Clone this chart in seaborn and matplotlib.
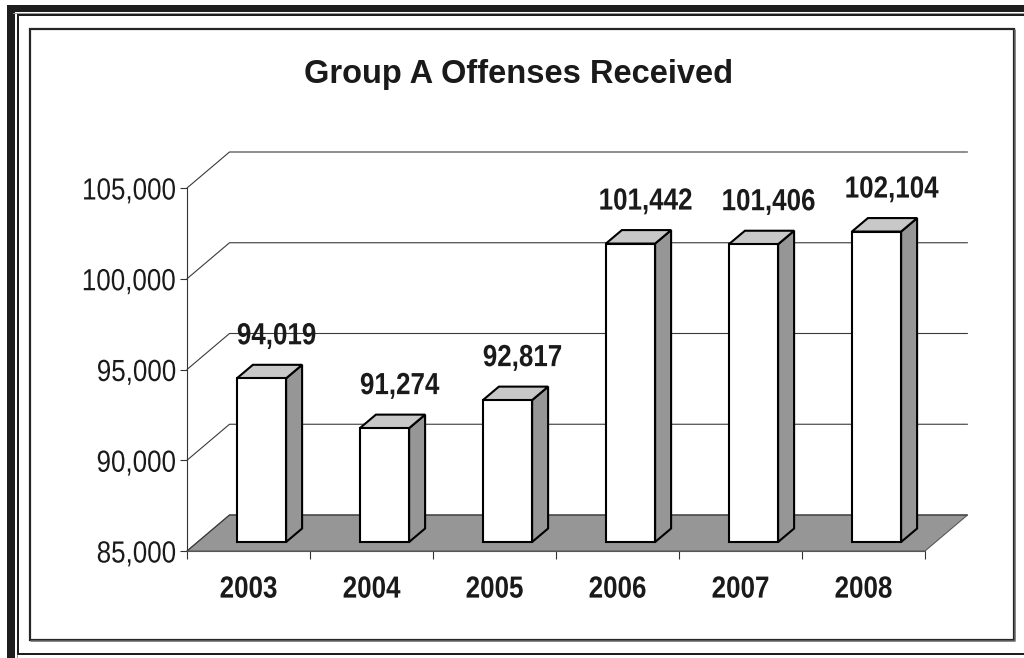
import matplotlib
matplotlib.use("Agg")
import matplotlib.pyplot as plt
from matplotlib import font_manager
from matplotlib.patches import Polygon, Rectangle
from matplotlib.patheffects import AbstractPathEffect
from matplotlib.ticker import FixedLocator, FuncFormatter
from matplotlib.transforms import Affine2D
import seaborn as sns
import pandas as pd

# ---- data -------------------------------------------------------------
years = ["2003", "2004", "2005", "2006", "2007", "2008"]
offenses = [94019, 91274, 92817, 101442, 101406, 102104]
y_ticks = [85000, 90000, 95000, 100000, 105000]
title = "Group A Offenses Received"

_avail = {f.name for f in font_manager.fontManager.ttflist}
WIDE = "Liberation Sans" if "Liberation Sans" in _avail else "DejaVu Sans"
if "Liberation Sans Narrow" in _avail:
    NARROW, SQUEEZE = "Liberation Sans Narrow", 1.0
else:
    # emulate a narrow face by compressing the regular one horizontally
    NARROW, SQUEEZE = WIDE, 0.85


class Squeeze(AbstractPathEffect):
    """Horizontally condense glyph outlines around an anchor."""

    def __init__(self, sx, anchor="center"):
        super().__init__()
        self.sx, self.anchor = sx, anchor

    def draw_path(self, renderer, gc, tpath, affine, rgbFace=None):
        ext = tpath.get_extents(affine)
        xa = {"left": ext.x0, "center": 0.5 * (ext.x0 + ext.x1),
              "right": ext.x1}[self.anchor]
        sq = Affine2D().translate(-xa, 0).scale(self.sx, 1).translate(xa, 0)
        renderer.draw_path(gc, tpath, affine + sq, rgbFace)


def narrow(anchor):
    return [Squeeze(SQUEEZE, anchor)] if SQUEEZE != 1.0 else []


sns.set_theme(style="white")
plt.rcParams["font.family"] = [NARROW, "DejaVu Sans"]

W, H, DPI = 1024, 658, 100
PT = 72 / DPI  # points per pixel
fig = plt.figure(figsize=(W / DPI, H / DPI), dpi=DPI)
fig.patch.set_facecolor("white")


def px_box(l, t, r, b):
    return [l / W, 1 - b / H, (r - l) / W, (b - t) / H]


# ---- page frame (pixel space overlay) ---------------------------------
ov = fig.add_axes([0, 0, 1, 1], zorder=0)
ov.set_xlim(0, W)
ov.set_ylim(H, 0)
ov.axis("off")
dark = "#1e1e1e"
ov.add_patch(Rectangle((7, 5), 8, H - 5, color=dark, lw=0))
ov.add_patch(Rectangle((7, 5), W - 7, 7, color=dark, lw=0))
ov.plot([16.5, 16.5], [13, H], color="#9a9a9a", lw=1 * PT)
ov.plot([13, W], [13.2, 13.2], color="#9a9a9a", lw=1 * PT)
ov.plot([18.3, 18.3], [15, 654], color=dark, lw=2 * PT)
ov.plot([18, W], [15.3, 15.3], color=dark, lw=2 * PT)
ov.plot([18, W], [654, 654], color=dark, lw=2 * PT)
# inner chart box with a slight shadow on the right / bottom
ov.plot([1015.3, 1015.3, 31], [30, 641.3, 641.3], color="#6a6a6a", lw=1.5 * PT)
ov.add_patch(Rectangle((29.5, 28.8), 984.3, 611.3, fill=False,
                       edgecolor="#262626", lw=2.2 * PT))

# ---- chart axes (front plane of the 3D box) ----------------------------
ax = fig.add_axes(px_box(187, 188, 925, 551), zorder=1)
ax.set_facecolor("none")

df = pd.DataFrame({"year": years, "offenses": offenses})
sns.barplot(data=df, x="year", y="offenses", ax=ax, width=0.4,
            color="white", saturation=1, edgecolor="black",
            linewidth=1.5, zorder=5)
ax.set_xlim(-0.5, len(years) - 0.5)
ax.set_ylim(y_ticks[0], y_ticks[-1])
base = y_ticks[0]

# pixel -> data units for the oblique depth offsets
xpp = len(years) / ax.bbox.width
ypp = (y_ticks[-1] - y_ticks[0]) / ax.bbox.height
WALL = (42.5 * xpp, 36 * ypp)    # full depth of floor / walls
FRONT = (13 * xpp, 9 * ypp)      # where the bar front sits in depth
DEPTH = (16 * xpp, 13.5 * ypp)   # bar depth

x_lo, x_hi = -0.5, len(years) - 0.5

# floor
ax.add_patch(Polygon([(x_lo, base), (x_hi, base),
                      (x_hi + WALL[0], base + WALL[1]),
                      (x_lo + WALL[0], base + WALL[1])],
                     closed=True, facecolor="#969696", edgecolor="#5a5a5a",
                     lw=0.8, zorder=1, clip_on=False))

# gridlines on the side and back walls
for v in y_ticks:
    ax.plot([x_lo, x_lo + WALL[0], x_hi + WALL[0]],
            [v, v + WALL[1], v + WALL[1]],
            color="#3a3a3a", lw=0.8, zorder=2, clip_on=False)

# turn the flat bars into 3D columns
for rect, v in zip(ax.patches, offenses):
    x0 = rect.get_x() + FRONT[0]
    w = rect.get_width()
    y0 = base + FRONT[1]
    top = v + FRONT[1]
    rect.set_xy((x0, y0))
    rect.set_height(top - y0)
    rect.set_clip_on(False)
    rect.set_joinstyle("miter")
    x1 = x0 + w
    side = Polygon([(x1, y0), (x1, top), (x1 + DEPTH[0], top + DEPTH[1]),
                    (x1 + DEPTH[0], y0 + DEPTH[1])], closed=True,
                   facecolor="#969696", edgecolor="black", lw=1.5,
                   joinstyle="miter", zorder=4, clip_on=False)
    cap = Polygon([(x0, top), (x1, top), (x1 + DEPTH[0], top + DEPTH[1]),
                   (x0 + DEPTH[0], top + DEPTH[1])], closed=True,
                  facecolor="#c8c8c8", edgecolor="black", lw=1.5,
                  joinstyle="miter", zorder=4, clip_on=False)
    ax.add_patch(side)
    ax.add_patch(cap)

# value labels
for i, v in enumerate(offenses):
    ax.annotate(f"{v:,}", (i, v), xytext=(28, 43), textcoords="offset pixels",
                ha="center", va="baseline", fontsize=22, fontweight="bold",
                color="#1a1a1a", annotation_clip=False, zorder=10,
                path_effects=narrow("center"))

# axes styling
for s in ("top", "right"):
    ax.spines[s].set_visible(False)
ax.spines["left"].set_color("#333333")
ax.spines["left"].set_linewidth(0.8)
ax.spines["bottom"].set_color("#555555")
ax.spines["bottom"].set_linewidth(0.8)
ax.spines["bottom"].set_zorder(3)

ax.yaxis.set_major_locator(FixedLocator(y_ticks))
ax.yaxis.set_major_formatter(FuncFormatter(lambda v, _: f"{int(v):,}"))
ax.tick_params(axis="y", direction="out", left=True, length=5, width=0.8,
               color="#333333", pad=2.5, labelsize=22, labelcolor="#1a1a1a")

ax.set_xticks(range(len(years)))
ax.set_xticklabels(years, fontweight="bold")
ax.set_xticks([i - 0.5 for i in range(len(years) + 1)], minor=True)
ax.tick_params(axis="x", which="major", length=0, pad=17, labelsize=22,
               labelcolor="#1a1a1a")
ax.tick_params(axis="x", which="minor", direction="out", bottom=True,
               length=6, width=0.8, color="#333333")
ax.set_xlabel("")
ax.set_ylabel("")
ax.grid(False)

fig.canvas.draw()
for lbl in ax.get_yticklabels():
    lbl.set_path_effects(narrow("right"))
for lbl in ax.get_xticklabels():
    lbl.set_path_effects(narrow("center"))

fig.text(519 / W, 1 - 83.3 / H, title, ha="center", va="baseline",
         fontsize=23.5, fontweight="bold", color="#1a1a1a",
         family=[WIDE, "DejaVu Sans"])

fig.savefig("out.png", dpi=DPI, facecolor="white")
